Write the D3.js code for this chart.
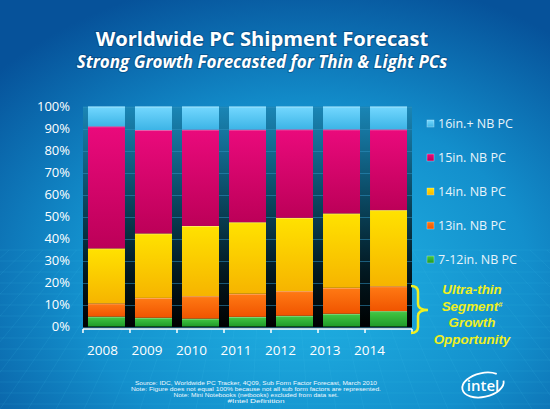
<!DOCTYPE html>
<html><head><meta charset="utf-8">
<script src="https://cdn.jsdelivr.net/npm/d3@7"></script>
<style>html,body{margin:0;padding:0;background:#0a6aaa;}svg{display:block;}</style>
</head><body>
<script>
const years = ["2008","2009","2010","2011","2012","2013","2014"];
const seriesNames = ["7-12in. NB PC","13in. NB PC","14in. NB PC","15in. NB PC","16in.+ NB PC"];
const s7to12 = [4.5, 4.0, 3.6, 4.4, 4.9, 5.8, 7.0];
const s13 = [6.0, 9.0, 10.2, 10.5, 11.2, 11.8, 11.3];
const s14 = [25.0, 29.3, 31.9, 32.5, 33.3, 33.8, 34.6];
const s15 = [55.5, 47.0, 43.8, 42.1, 40.2, 38.2, 36.7];
const s16 = [9.0, 10.7, 10.5, 10.5, 10.4, 10.4, 10.4];
const yTicks = [0,10,20,30,40,50,60,70,80,90,100];
const colorsTop = ["#44c844","#ff7a14","#ffe200","#ea0a7c","#74d8ff"];
const colorsBot = ["#1e9a28","#f05400","#f6b400","#bc0058","#3cb4e6"];

const W=550,H=409;
const svg=d3.select("body").append("svg").attr("width",W).attr("height",H);
const defs=svg.append("defs");
const bg=defs.append("radialGradient").attr("id","bg").attr("cx","55%").attr("cy","68%").attr("r","75%");
bg.append("stop").attr("offset","0%").attr("stop-color","#22b6e6");
bg.append("stop").attr("offset","55%").attr("stop-color","#138fcc");
bg.append("stop").attr("offset","100%").attr("stop-color","#06529a");
const pg=defs.append("linearGradient").attr("id","plotbg").attr("x1",0).attr("y1",0).attr("x2",0).attr("y2",1);
pg.append("stop").attr("offset","0%").attr("stop-color","#1a86b6");
pg.append("stop").attr("offset","40%").attr("stop-color","#0b4a64");
pg.append("stop").attr("offset","75%").attr("stop-color","#021820");
pg.append("stop").attr("offset","100%").attr("stop-color","#000000");
seriesNames.forEach((n,i)=>{
  const g=defs.append("linearGradient").attr("id","g"+i).attr("x1",0).attr("y1",0).attr("x2",0).attr("y2",1);
  g.append("stop").attr("offset","0%").attr("stop-color",colorsTop[i]);
  g.append("stop").attr("offset","100%").attr("stop-color",colorsBot[i]);
});
svg.append("rect").attr("width",W).attr("height",H).attr("fill","url(#bg)");

// faint perspective grid in background
const gridG=svg.append("g").attr("stroke","#4cc4f0").attr("stroke-opacity",0.12).attr("stroke-width",1);
for(let i=0;i<16;i++){const yy=250+i*11;gridG.append("line").attr("x1",0).attr("x2",W).attr("y1",yy).attr("y2",yy);}
for(let i=-10;i<30;i++){const x0=i*28;gridG.append("line").attr("x1",x0).attr("y1",H).attr("x2",275+(x0-275)*0.6).attr("y2",250);}

// Title
svg.append("text").attr("x",262).attr("y",45.5).attr("text-anchor","middle")
  .attr("font-family","Open Sans").attr("font-weight",700).attr("font-size",20.2).attr("fill","#fff")
  .style("paint-order","stroke").attr("stroke","rgba(0,40,80,0.35)").attr("stroke-width",2)
  .text("Worldwide PC Shipment Forecast");
svg.append("text").attr("x",262).attr("y",67.5).attr("text-anchor","middle")
  .attr("font-family","Open Sans").attr("font-weight",700).attr("font-style","italic").attr("font-size",17).attr("fill","#fff")
  .style("paint-order","stroke").attr("stroke","rgba(0,40,80,0.35)").attr("stroke-width",2)
  .text("Strong Growth Forecasted for Thin & Light PCs");

const x=d3.scaleBand().domain(years).range([83,412]).paddingInner(0.213).paddingOuter(0.106);
const y=d3.scaleLinear().domain([0,100]).range([326.5,106.5]);
const xl=d3.scalePoint().domain(years).range([102,369]);

svg.append("rect").attr("x",83).attr("y",y(100)).attr("width",329).attr("height",y(0)-y(100)+2).attr("fill","url(#plotbg)");
// gridlines
svg.append("g").selectAll("line").data(yTicks).join("line")
  .attr("x1",83).attr("x2",412).attr("y1",d=>Math.round(y(d))+0.5).attr("y2",d=>Math.round(y(d))+0.5)
  .attr("stroke","#2f8fc0").attr("stroke-opacity",0.55);

const rows=years.map((yr,i)=>({year:yr,v:[s7to12[i],s13[i],s14[i],s15[i],s16[i]]}));
const keys=[0,1,2,3,4];
const stack=d3.stack().keys(keys).value((d,k)=>d.v[k]);
const stacked=stack(rows);
const layers=svg.append("g").selectAll("g").data(stacked).join("g");
layers.each(function(layer,li){
  const g=d3.select(this);
  g.selectAll("rect").data(layer).join("rect")
    .attr("x",d=>x(d.data.year)).attr("width",x.bandwidth())
    .attr("y",d=>y(d[1])).attr("height",d=>y(d[0])-y(d[1]))
    .attr("fill","url(#g"+li+")");
  g.selectAll("line").data(layer).join("line")
    .attr("x1",d=>x(d.data.year)).attr("x2",d=>x(d.data.year)+x.bandwidth())
    .attr("y1",d=>y(d[1])+0.5).attr("y2",d=>y(d[1])+0.5)
    .attr("stroke","#ffffff").attr("stroke-opacity",0.35);
});

// y axis labels
const yAxis=d3.axisLeft(y).tickValues(yTicks).tickFormat(d=>d+"%").tickSize(0).tickPadding(0);
const ya=svg.append("g").attr("transform","translate(70,0)").call(yAxis);
ya.select(".domain").remove();
ya.selectAll("text").attr("font-family","Open Sans").attr("font-size",13).attr("fill","#fff");

// x axis line with ticks at band boundaries
const xAxisG=svg.append("g").attr("transform","translate(0,329)");
xAxisG.append("line").attr("x1",83).attr("x2",412).attr("stroke","#fff").attr("stroke-width",1.5);
const bounds=years.map(d=>x(d)-x.step()*x.paddingInner()/2).concat([412]);
xAxisG.selectAll("line.t").data(bounds).join("line").attr("class","t")
  .attr("x1",d=>d).attr("x2",d=>d).attr("y1",0).attr("y2",4).attr("stroke","#fff").attr("stroke-width",1.5);
const xa=svg.append("g").attr("transform","translate(0,345)").call(d3.axisBottom(xl).tickSize(0).tickPadding(0));
xa.select(".domain").remove();
xa.selectAll("text").attr("font-family","Open Sans").attr("font-size",13.5).attr("fill","#fff").attr("dy","0.71em");

// legend
const legOrder=[4,3,2,1,0];
const lg=svg.append("g");
legOrder.forEach((k,i)=>{
  const cy=123.5+i*34;
  lg.append("rect").attr("x",427).attr("y",cy-3.5).attr("width",7).attr("height",7)
    .attr("fill","url(#g"+k+")").attr("stroke","rgba(255,255,255,0.5)").attr("stroke-width",0.6);
  lg.append("text").attr("x",438).attr("y",cy).attr("dy","0.36em")
    .attr("font-family","Open Sans").attr("font-size",12.5).attr("fill","#e8f4fa").text(seriesNames[k]);
});

// Ultra-thin bracket + text
svg.append("path").attr("d","M411,286 Q418,286 418,292 L418,304 Q418,310 428,310 Q418,310 418,316 L418,327 Q418,333 411,333")
  .attr("fill","none").attr("stroke","#f0f020").attr("stroke-width",2.5);
const ut=["Ultra-thin","Segment","Growth","Opportunity"];
const utG=svg.append("g").selectAll("text").data(ut).join("text")
  .attr("x",472).attr("y",(d,i)=>289.5+i*16.4).attr("dy","0.36em").attr("text-anchor","middle")
  .attr("font-family","Liberation Sans").attr("font-weight",700).attr("font-style","italic").attr("font-size",13.4)
  .attr("fill","#f0f020").text(d=>d);
utG.filter((d,i)=>i===1).append("tspan").attr("font-size",7.5).attr("dy","-0.45em").text("#");

// source notes
const notes=["Source: IDC, Worldwide PC Tracker, 4Q09, Sub Form Factor Forecast, March 2010",
"Note: Figure does not equal 100% because not all sub form factors are represented.",
"Note:  Mini Notebooks (netbooks) excluded from data set.",
"#Intel Definition"];
const noteW=[242,250,165,57];
svg.append("g").selectAll("text").data(notes).join("text")
  .attr("x",256).attr("y",(d,i)=>385+i*6).attr("text-anchor","middle")
  .attr("font-family","Liberation Sans").attr("font-size",5.2).attr("fill","#eef8ff")
  .attr("textLength",(d,i)=>noteW[i]).attr("lengthAdjust","spacingAndGlyphs").text(d=>d);

// intel logo
const logo=svg.append("g");
logo.append("ellipse").attr("cx",483).attr("cy",385).attr("rx",21).attr("ry",12)
  .attr("fill","none").attr("stroke","#fff").attr("stroke-width",1.8)
  .attr("stroke-dasharray","95 30").attr("transform","rotate(-12,483,385)");
logo.append("text").attr("x",483).attr("y",386).attr("dy","0.35em").attr("text-anchor","middle")
  .attr("font-family","Open Sans").attr("font-weight",600).attr("font-size",15).attr("fill","#fff").text("intel");
</script>
</body></html>
